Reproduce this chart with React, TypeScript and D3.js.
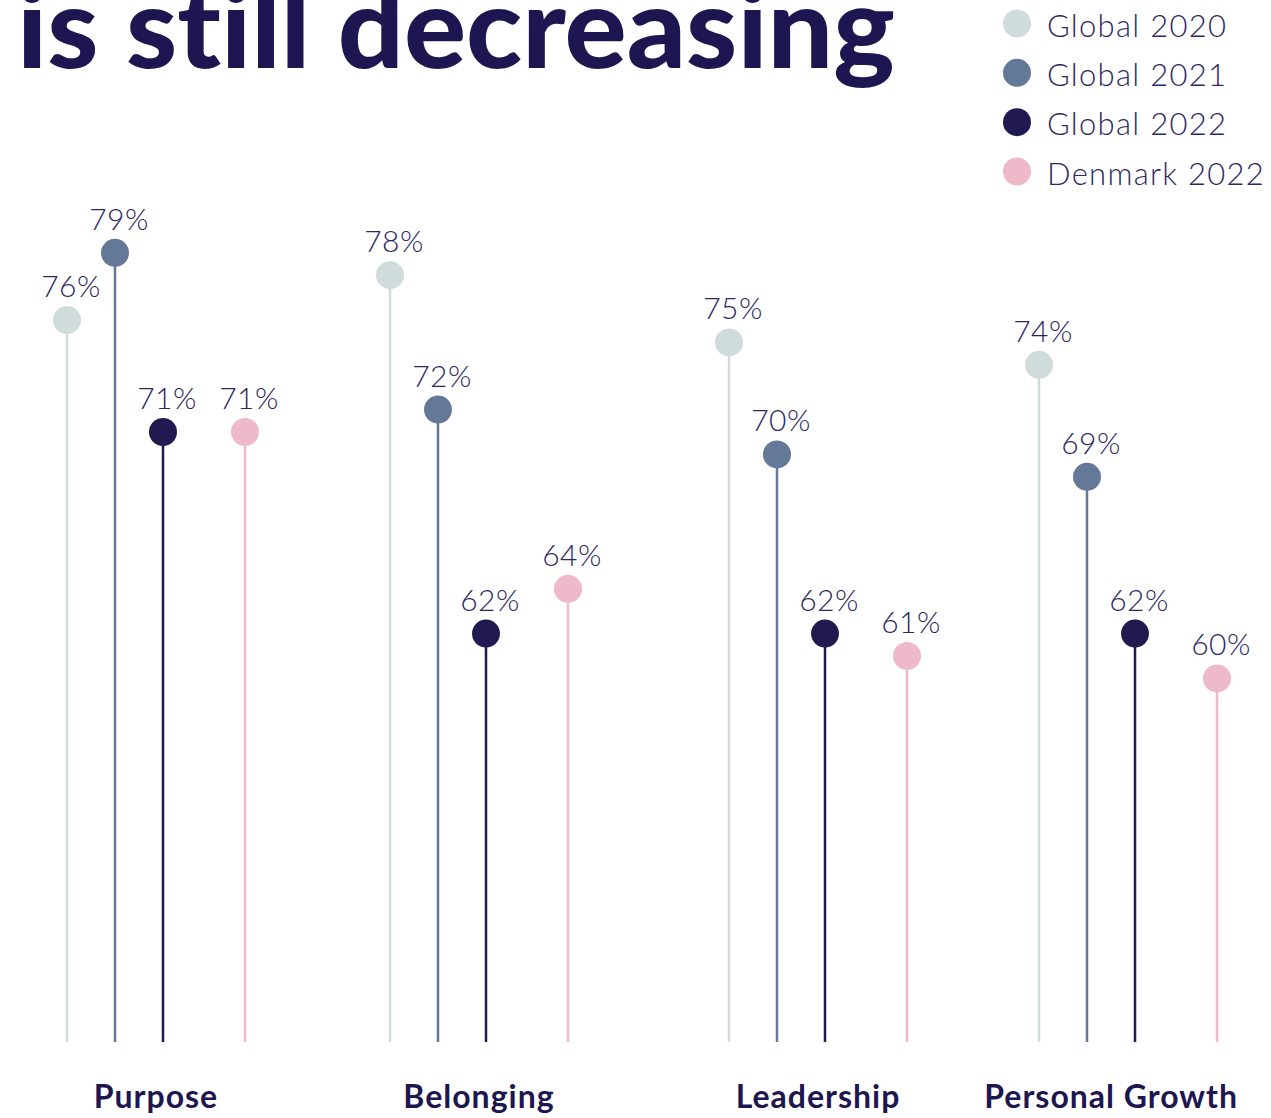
import React, { useLayoutEffect, useRef, useState } from "react";
import * as d3 from "d3";

const categories = ["Purpose", "Belonging", "Leadership", "Personal Growth"];
const seriesNames = ["Global 2020", "Global 2021", "Global 2022", "Denmark 2022"];
const global2020 = [76, 78, 75, 74];
const global2021 = [79, 72, 70, 69];
const global2022 = [71, 62, 62, 62];
const denmark2022 = [71, 64, 61, 60];
const seriesValues = [global2020, global2021, global2022, denmark2022];
const seriesColors = ["#cfdcdb", "#647898", "#211a50", "#eeb9c9"];

const W = 1271;
const H = 1118;
const baseY = 1042;
const titleColor = "#1e1650";
const textColor = "#2e2862";
const lightFont = "Lato, 'Open Sans', sans-serif";

export default function App() {
  const y = d3.scaleLinear().domain([60, 79]).range([678.4, 252.8]);
  const x = d3.scaleOrdinal<string, number>().domain(categories).range([67, 390, 729, 1039]);
  const off = d3.scaleOrdinal<string, number>().domain(seriesNames).range([0, 48, 96, 178]);
  const legendY = d3.scalePoint<string>().domain(seriesNames).range([23.5, 171.5]);

  const labelRefs = useRef<(SVGTextElement | null)[]>([]);
  const [labelX, setLabelX] = useState<number[]>(categories.map((c) => (x(c) as number) + 89));

  useLayoutEffect(() => {
    const next = categories.map((c, i) => {
      const el = labelRefs.current[i];
      const want = (x(c) as number) + 89;
      if (!el) return want;
      const half = el.getComputedTextLength() / 2;
      return Math.min(want, W - 33 - half);
    });
    if (next.some((v, i) => Math.abs(v - labelX[i]) > 0.5)) setLabelX(next);
  }, []);

  return (
    <svg
      width={W}
      height={H}
      style={{ position: "absolute", left: 0, top: 0, background: "#fff" }}
    >
      <text
        x={17}
        y={68}
        fontFamily="Lato, sans-serif"
        fontWeight={900}
        fontSize={112}
        fill={titleColor}
        textLength={878}
        lengthAdjust="spacingAndGlyphs"
        style={{ fontVariantLigatures: "none" }}
      >
        is still decreasing
      </text>

      {seriesNames.map((s, i) => (
        <g key={s}>
          <circle cx={1017} cy={legendY(s)} r={14} fill={seriesColors[i]} />
          <text
            x={1047}
            y={(legendY(s) as number) + 13}
            fontFamily={lightFont}
            fontWeight={300}
            fontSize={31}
            letterSpacing={1.3}
            fill={textColor}
          >
            {s}
          </text>
        </g>
      ))}

      {categories.map((c, ci) => {
        const gx = x(c) as number;
        return (
          <g key={c}>
            {seriesNames.map((s, si) => {
              const v = seriesValues[si][ci];
              const cx = gx + (off(s) as number);
              const cy = y(v);
              return (
                <g key={s}>
                  <line x1={cx} x2={cx} y1={cy} y2={baseY} stroke={seriesColors[si]} strokeWidth={2.5} />
                  <circle cx={cx} cy={cy} r={14} fill={seriesColors[si]} />
                  <text
                    x={cx + 4}
                    y={cy - 23}
                    textAnchor="middle"
                    fontFamily={lightFont}
                    fontWeight={300}
                    fontSize={30}
                    letterSpacing={0.5}
                    fill={textColor}
                  >
                    {v}%
                  </text>
                </g>
              );
            })}
            <text
              ref={(el) => {
                labelRefs.current[ci] = el;
              }}
              x={labelX[ci]}
              y={1108}
              textAnchor="middle"
              fontFamily="Lato, sans-serif"
              fontWeight={700}
              fontSize={32}
              letterSpacing={1}
              fill={titleColor}
            >
              {c}
            </text>
          </g>
        );
      })}
    </svg>
  );
}
